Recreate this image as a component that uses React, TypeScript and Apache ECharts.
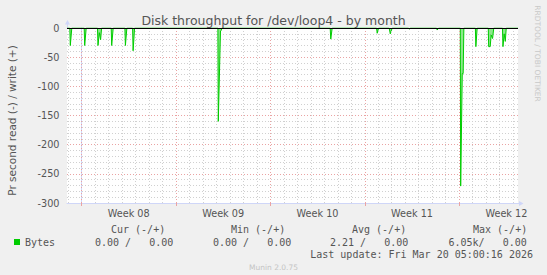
import React, { useEffect, useRef } from 'react';
import * as echarts from 'echarts';

const titleText = 'Disk throughput for /dev/loop4 - by month';
const yAxisTitle = 'Pr second read (-) / write (+)';
const watermark = 'RRDTOOL / TOBI OETIKER';
const versionText = 'Munin 2.0.75';
const lastUpdate = 'Last update: Fri Mar 20 05:00:16 2026';

// x values: days since Mon 16 Feb 2026 00:00 (start of Week 08)
const xMin = -1.075;
const xMax = 32.36;
const weekStarts = [0, 7, 14, 21, 28];
const weekLabelPos = [3.5, 10.5, 17.5, 24.5, 31.5];
const weekLabels = ['Week 08', 'Week 09', 'Week 10', 'Week 11', 'Week 12'];

const yMin = -300;
const yMax = 0;
const yStep = 50;

// read throughput (negative side), bytes per second
const readDays = [
  -1.075,
  -0.867, -0.83, -0.719,
  0.2, 0.237, 0.348,
  1.186, 1.223, 1.32, 1.416, 1.49,
  2.202, 2.239, 2.35,
  3.217, 3.254, 3.365,
  3.788, 3.825, 3.936,
  10.111, 10.141, 10.304, 10.371, 10.4,
  18.436, 18.48, 18.584,
  21.876, 21.92, 22.024,
  22.81, 22.891, 22.943, 23.032,
  24.248, 24.292, 24.396,
  26.323, 26.368, 26.472,
  28.08, 28.11, 28.228, 28.295, 28.347,
  29.199, 29.236, 29.333,
  30.156, 30.185, 30.297, 30.371, 30.475, 30.564,
  31.208, 31.245, 31.334, 31.416, 31.49,
  32.36,
];
const readValues = [
  0,
  0, -30, 0,
  0, -30, 0,
  0, -30, -8, -20, 0,
  0, -30, 0,
  0, -30, 0,
  0, -39, 0,
  0, -160, -5, -4, 0,
  0, -19, 0,
  0, -9, 0,
  0, -10, -10, 0,
  0, -2, 0,
  0, -3.5, 0,
  0, -271, -78, -78, 0,
  0, -32, 0,
  0, -32, -32, -12, -18, 0,
  0, -32, -10, -23, 0,
  0,
];

const legendName = 'Bytes';
const legendHeaders = ['Cur (-/+)', 'Min (-/+)', 'Avg (-/+)', 'Max (-/+)'];
const legendValues = ['0.00 /   0.00', '0.00 /   0.00', '2.21 /   0.00', '6.05k/   0.00'];

const GREEN = '#00cc00';
const GRID_GRAY = '#d0d0d0';
const GRID_RED = '#eaa3a3';
const AXIS_COLOR = '#cfd6f8';
const FONT_COLOR = '#555555';

export default function App() {
  const ref = useRef<HTMLDivElement>(null);

  useEffect(() => {
    if (!ref.current) return;
    const chart = echarts.init(ref.current, undefined, { renderer: 'svg' });

    const dayLines: number[] = [];
    for (let d = Math.ceil(xMin); d <= Math.floor(xMax); d++) {
      if (weekStarts.indexOf(d) < 0) dayLines.push(d);
    }

    const headerX = [111, 231, 352, 473];
    const valueX = [95, 213, 330, 448.5];
    const mono = '10px "DejaVu Sans Mono"';

    const graphics: any[] = [
      // axis arrows (rrdtool style)
      {
        type: 'line',
        silent: true,
        shape: { x1: 67.5, y1: 28, x2: 67.5, y2: 24 },
        style: { stroke: AXIS_COLOR, lineWidth: 1 },
      },
      {
        type: 'polygon',
        silent: true,
        shape: { points: [[65, 24.5], [70, 24.5], [67.5, 20]] },
        style: { fill: AXIS_COLOR },
      },
      {
        type: 'line',
        silent: true,
        shape: { x1: 518, y1: 203.5, x2: 519.5, y2: 203.5 },
        style: { stroke: AXIS_COLOR, lineWidth: 1 },
      },
      {
        type: 'polygon',
        silent: true,
        shape: { points: [[519, 201], [519, 206], [523.5, 203.5]] },
        style: { fill: AXIS_COLOR },
      },
      {
        type: 'text',
        x: 11.5,
        y: 120.5,
        rotation: Math.PI / 2,
        style: {
          text: yAxisTitle,
          fill: FONT_COLOR,
          font: '10.5px "DejaVu Sans"',
          textAlign: 'center',
          textVerticalAlign: 'middle',
        },
      },
      {
        type: 'text',
        x: 537.5,
        y: 53.5,
        rotation: -Math.PI / 2,
        style: {
          text: watermark,
          fill: '#c8c8c8',
          font: '7.5px "DejaVu Sans"',
          textAlign: 'center',
          textVerticalAlign: 'middle',
        },
      },
      {
        type: 'text',
        x: 273.5,
        y: 267,
        style: {
          text: versionText,
          fill: '#c4c4c4',
          font: '7.5px "DejaVu Sans"',
          textAlign: 'center',
          textVerticalAlign: 'middle',
        },
      },
      {
        type: 'text',
        x: 533,
        y: 254.5,
        style: {
          text: lastUpdate,
          fill: FONT_COLOR,
          font: mono,
          textAlign: 'right',
          textVerticalAlign: 'middle',
        },
      },
    ];
    legendHeaders.forEach((h, i) => {
      graphics.push({
        type: 'text',
        x: headerX[i],
        y: 229,
        style: { text: h, fill: FONT_COLOR, font: mono, textAlign: 'left', textVerticalAlign: 'middle' },
      });
    });
    legendValues.forEach((v, i) => {
      graphics.push({
        type: 'text',
        x: valueX[i],
        y: 242.3,
        style: { text: v, fill: FONT_COLOR, font: mono, textAlign: 'left', textVerticalAlign: 'middle' },
      });
    });

    const option: any = {
      animation: false,
      backgroundColor: '#f0f0f0',
      title: {
        text: titleText,
        left: 'center',
        top: 13,
        padding: 0,
        textStyle: {
          fontFamily: 'DejaVu Sans',
          fontSize: 12.5,
          fontWeight: 'normal',
          color: FONT_COLOR,
          lineHeight: 14,
        },
      },
      legend: {
        data: [legendName],
        left: 14,
        top: 236,
        padding: 0,
        icon: 'rect',
        itemWidth: 6,
        itemHeight: 6,
        selectedMode: false,
        textStyle: {
          fontFamily: 'DejaVu Sans Mono',
          fontSize: 10,
          color: FONT_COLOR,
          lineHeight: 12,
          padding: [0, 0, 0, 0],
        },
      },
      grid: {
        left: 67,
        top: 28,
        width: 451,
        height: 175,
        show: true,
        backgroundColor: '#ffffff',
        borderWidth: 0,
      },
      xAxis: {
        type: 'value',
        min: xMin,
        max: xMax,
        axisLine: {
          show: true,
          onZero: false,
          symbol: ['none', 'none'],
          lineStyle: { color: AXIS_COLOR, width: 1 },
        },
        axisTick: {
          show: true,
          customValues: weekStarts,
          length: 3,
          inside: false,
          lineStyle: { color: GRID_RED, width: 1 },
        },
        axisLabel: {
          customValues: weekLabelPos,
          formatter: (v: number) => {
            const i = weekLabelPos.findIndex((p) => Math.abs(p - v) < 1e-6);
            return i >= 0 ? weekLabels[i] : '';
          },
          color: FONT_COLOR,
          fontFamily: 'DejaVu Sans',
          fontSize: 9.7,
          margin: 5,
        },
        splitLine: { show: false },
      },
      yAxis: {
        type: 'value',
        min: yMin,
        max: yMax,
        interval: yStep,
        axisLine: {
          show: true,
          symbol: ['none', 'none'],
          lineStyle: { color: AXIS_COLOR, width: 1 },
        },
        axisTick: { show: false },
        axisLabel: {
          color: FONT_COLOR,
          fontFamily: 'DejaVu Sans',
          fontSize: 9.7,
          margin: 7.5,
        },
        splitLine: {
          show: true,
          lineStyle: { color: GRID_RED, width: 1, type: [1, 2] },
        },
        minorTick: { show: false, splitNumber: 5 },
        minorSplitLine: {
          show: true,
          lineStyle: { color: GRID_GRAY, width: 1, type: [1, 2] },
        },
      },
      graphic: graphics,
      series: [
        {
          name: 'grid-days',
          type: 'line',
          data: [],
          z: 1,
          silent: true,
          markLine: {
            silent: true,
            symbol: ['none', 'none'],
            label: { show: false },
            lineStyle: { color: GRID_GRAY, width: 1, type: [1, 2] },
            data: dayLines.map((d) => ({ xAxis: d })),
          },
        },
        {
          name: 'grid-weeks',
          type: 'line',
          data: [],
          z: 1,
          silent: true,
          markLine: {
            silent: true,
            symbol: ['none', 'none'],
            label: { show: false },
            lineStyle: { color: GRID_RED, width: 1, type: [1, 2] },
            data: weekStarts.map((d) => ({ xAxis: d })),
          },
        },
        {
          name: legendName,
          type: 'line',
          z: 2,
          data: readDays.map((d, i) => [d, readValues[i]]),
          showSymbol: false,
          symbol: 'none',
          color: GREEN,
          lineStyle: { color: GREEN, width: 1 },
          areaStyle: { color: GREEN, opacity: 0.45, origin: 'end' },
          clip: true,
        },
        {
          name: 'zero-line',
          type: 'line',
          data: [],
          z: 3,
          silent: true,
          markLine: {
            silent: true,
            symbol: ['none', 'none'],
            label: { show: false },
            lineStyle: { color: '#000000', width: 1, type: 'solid' },
            data: [{ yAxis: 0 }],
          },
        },
      ],
    };

    chart.setOption(option);
    return () => chart.dispose();
  }, []);

  return (
    <div
      ref={ref}
      style={{ position: 'fixed', left: 0, top: 0, width: 547, height: 275 }}
    />
  );
}
